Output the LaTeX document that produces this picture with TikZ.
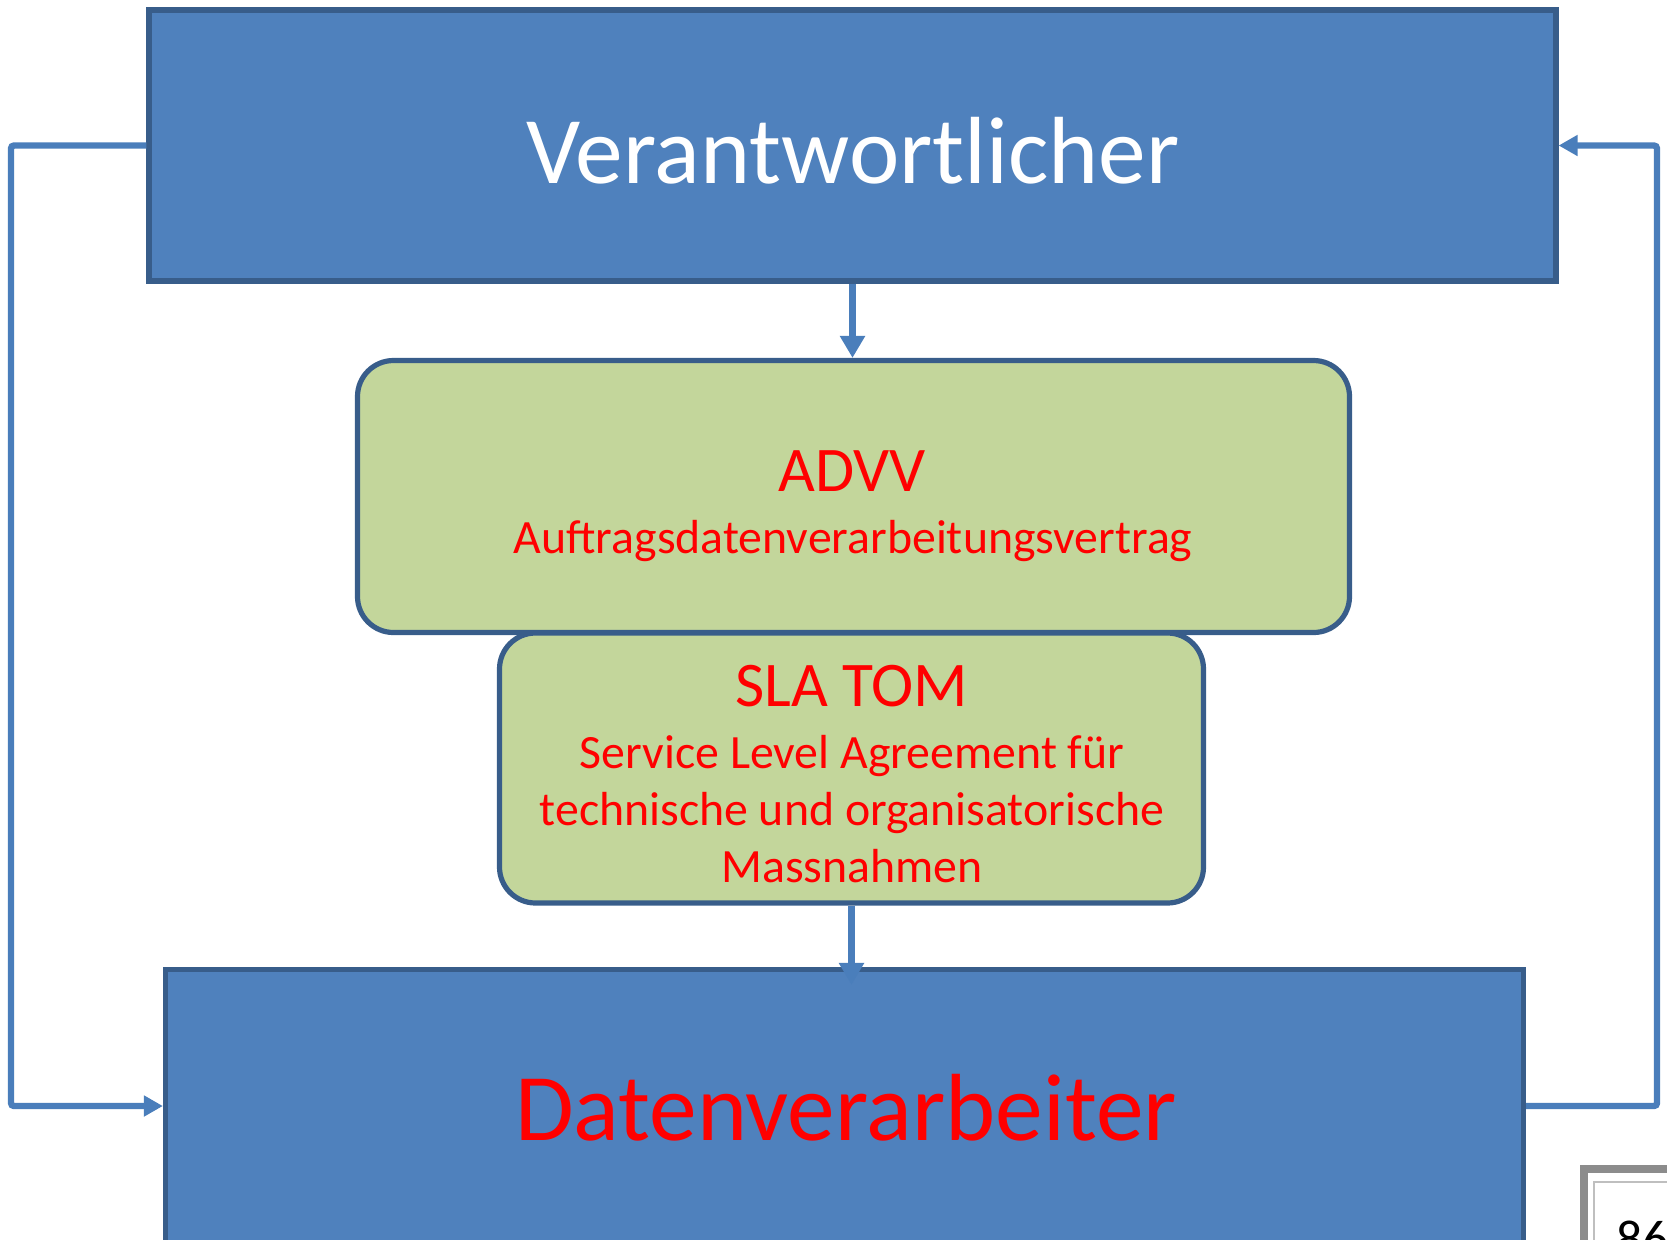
\documentclass[tikz,border=0pt]{standalone}
\usepackage{fontspec}
\setmainfont{Carlito}
\usetikzlibrary{arrows.meta,calc}
\definecolor{boxblue}{HTML}{4F81BD}
\definecolor{boxborder}{HTML}{385D8A}
\definecolor{boxgreen}{HTML}{C3D69B}
\definecolor{connblue}{HTML}{4A7EBB}
\definecolor{txtred}{HTML}{FF0000}
\tikzset{
  bluebox/.style={draw=boxborder, fill=boxblue, line width=2.6pt, inner sep=0pt},
  greenbox/.style={draw=boxborder, fill=boxgreen, line width=2.6pt, inner sep=0pt, rounded corners=18pt},
  conn/.style={draw=connblue, line width=3.2pt, rounded corners=1.5pt, -{Triangle[width=10pt,length=9.5pt]}},
  varrow/.style={draw=connblue, line width=3.6pt, -{Triangle[width=12pt,length=11pt]}},
  bigtxt/.style={font=\fontsize{47.7}{56}\selectfont, inner sep=0pt, anchor=base},
  midtxt/.style={font=\fontsize{31.8}{38}\selectfont, text=txtred, inner sep=0pt, anchor=base},
  smalltxt/.style={font=\fontsize{23.9}{28.5}\selectfont, text=txtred, inner sep=0pt, anchor=base},
}
\begin{document}
\begin{tikzpicture}[x=0.5pt,y=-0.5pt]
\useasboundingbox (0,0) rectangle (1667,1239);
\clip (0,0) rectangle (1667,1239);
% boxes
\node[bluebox, minimum width=703.5pt, minimum height=135.5pt] (top) at (852.5,145.5) {};
\node[greenbox, minimum width=496pt, minimum height=136pt] (advv) at (853.5,496.5) {};
\node[greenbox, minimum width=352pt, minimum height=135pt] (sla) at (851.5,768) {};
\node[bluebox, minimum width=679pt, minimum height=165.25pt] (bot) at (844.5,1134.75) {};
% texts
\node[bigtxt, text=white] (toptxt) at (853,183) {Verantwortlicher};
\node[midtxt] (advvtxt) at (852,491) {ADVV};
\node[smalltxt] (advvsub) at (853,553) {Auftragsdatenverarbeitungsvertrag};
\node[midtxt] (slatxt) at (852,706) {SLA TOM};
\node[smalltxt] (sla1) at (852,768) {Service Level Agreement für};
\node[smalltxt] (sla2) at (852,825) {technische und organisatorische};
\node[smalltxt] (sla3) at (852,882) {Massnahmen};
\node[bigtxt, text=txtred] (bottxt) at (846,1140) {Datenverarbeiter};
% connectors
\coordinate (lcorner) at (11,1106);
\coordinate (rcorner) at (1657,1106);
\draw[varrow] (top.south) -- (top.south |- advv.north);
\draw[varrow] (sla.south) -- ($(sla.south |- bot.north)+(0,18)$);
\draw[conn] (top.west) -| (lcorner) -- (bot.west |- lcorner);
\draw[conn] (bot.east |- lcorner) -- (rcorner) |- (top.east);
% page number frame (bottom right)
\draw[line width=4pt, draw=black!45] (1584,1169) rectangle (1720,1300);
\draw[line width=1pt, draw=black!25] (1594,1182) rectangle (1720,1300);
\node[font=\fontsize{26}{30}\selectfont, anchor=base west, inner sep=0pt] (pnum) at (1616,1256) {86};
\end{tikzpicture}
\end{document}
